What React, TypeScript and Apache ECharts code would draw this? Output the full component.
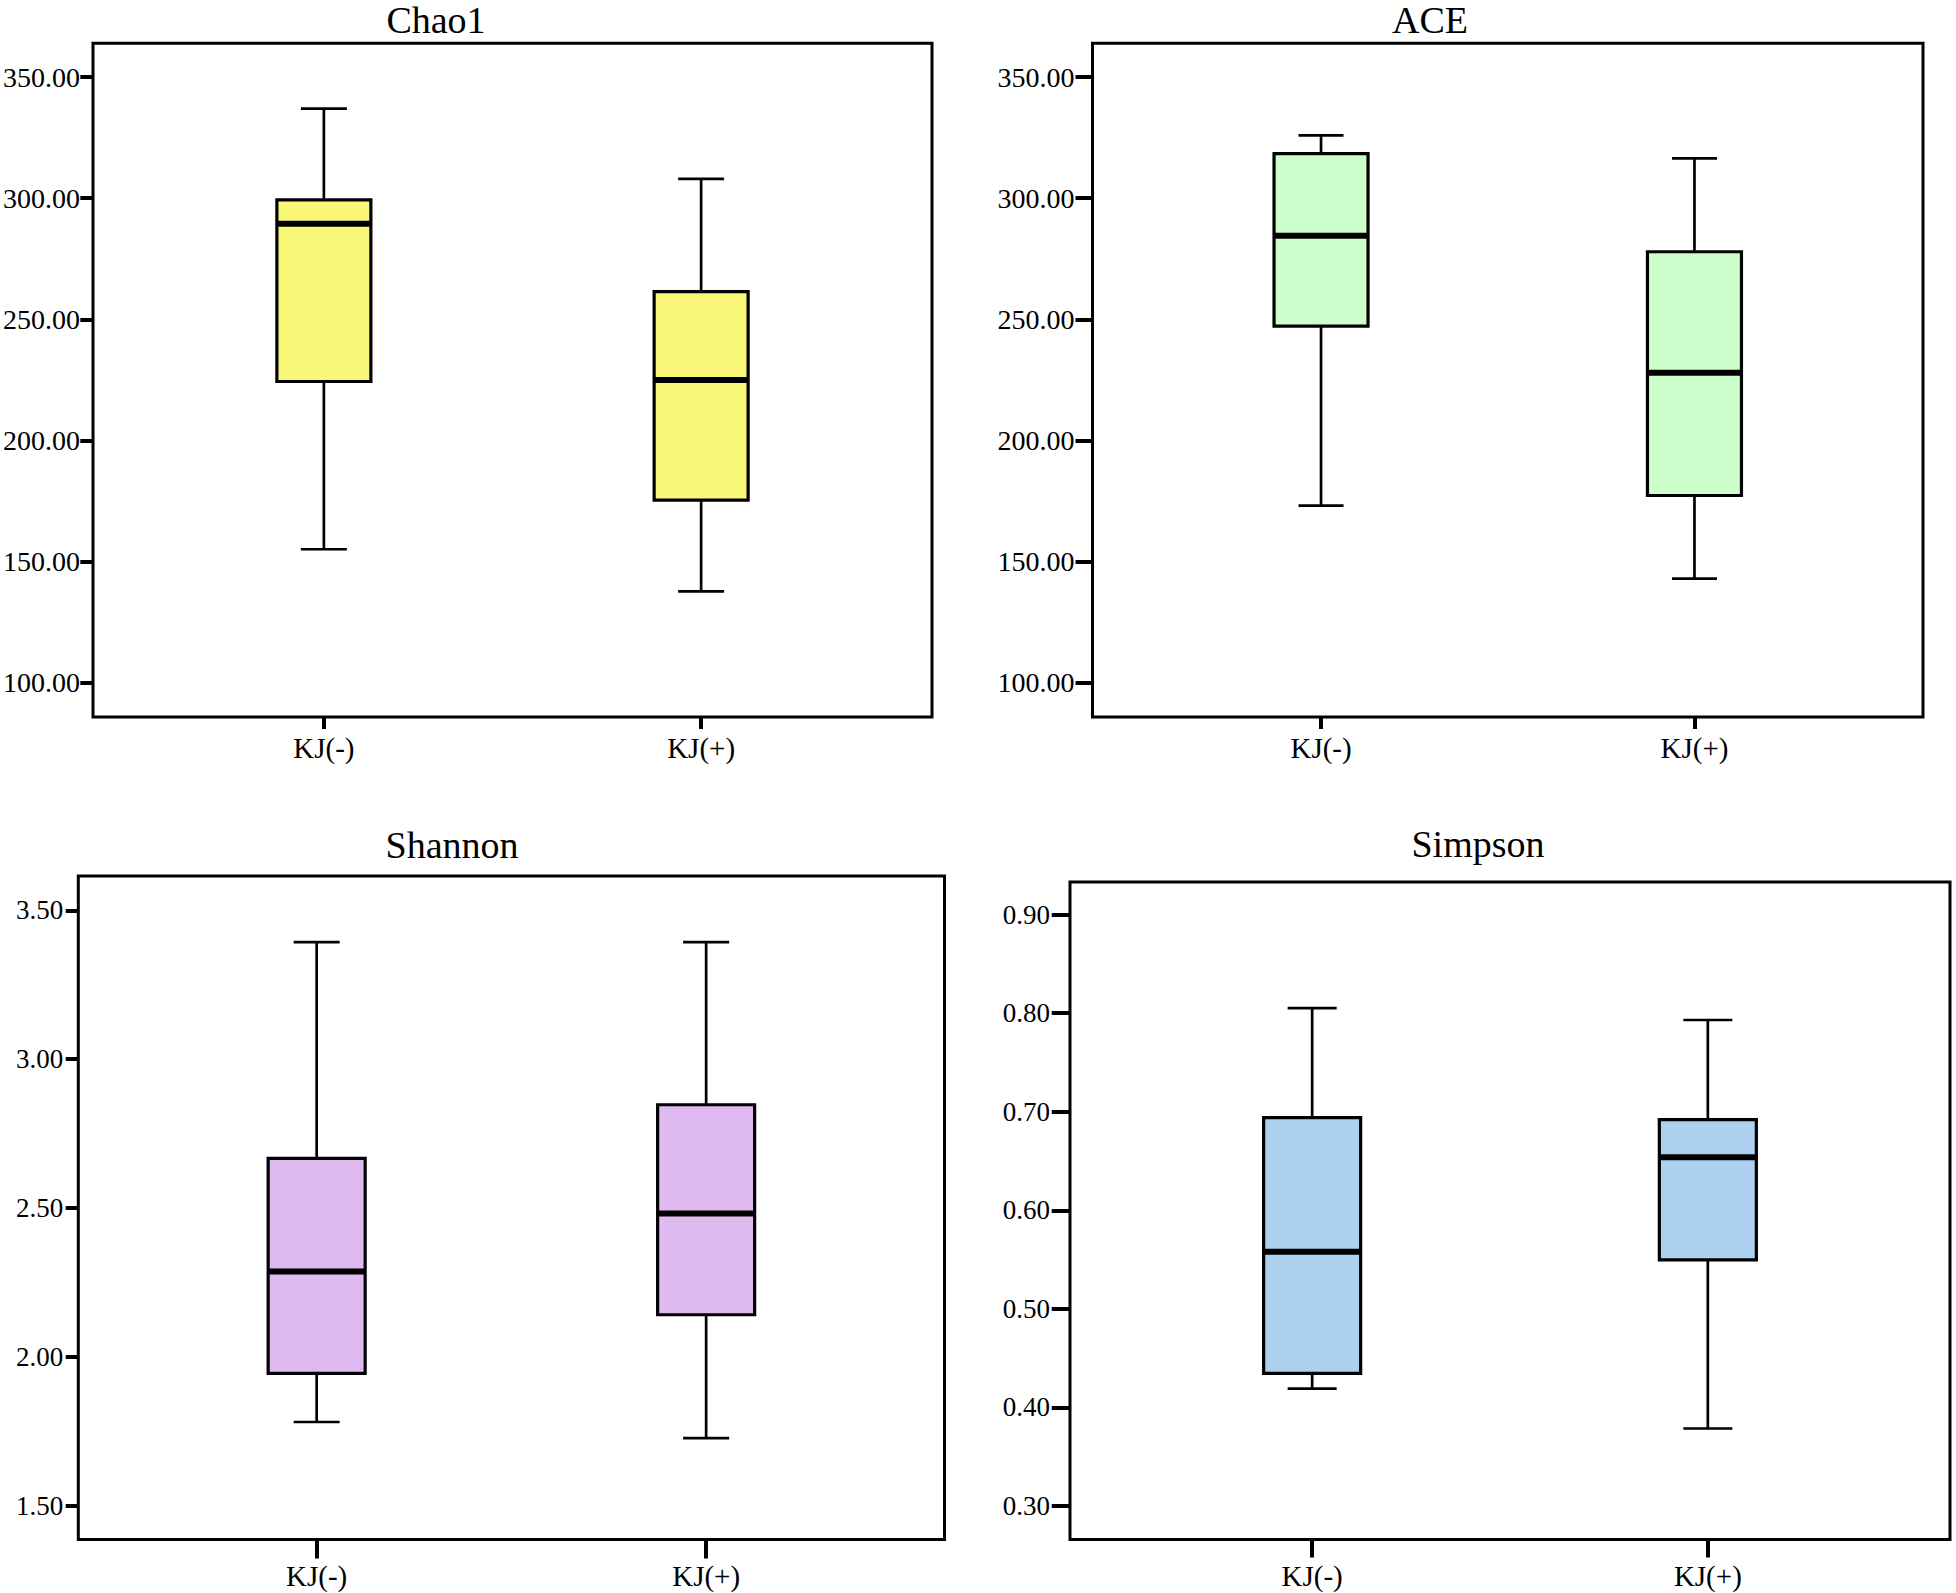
import React, { useEffect, useRef } from 'react';
import * as echarts from 'echarts';

// ---------- data ----------
const categories = ['KJ(-)', 'KJ(+)'];

// five-number summaries: [lower whisker, Q1, median, Q3, upper whisker]
const chao1Neg = [155.0, 224.3, 289.5, 299.3, 337.0];
const chao1Pos = [137.6, 175.3, 224.9, 261.4, 308.0];
const aceNeg = [173.0, 247.2, 284.5, 318.4, 326.0];
const acePos = [142.9, 177.2, 227.9, 277.9, 316.5];
const shannonNeg = [1.782, 1.945, 2.287, 2.667, 3.393];
const shannonPos = [1.728, 2.142, 2.482, 2.847, 3.393];
const simpsonNeg = [0.419, 0.4345, 0.558, 0.694, 0.805];
const simpsonPos = [0.3786, 0.5496, 0.6537, 0.692, 0.793];

const richnessTicks = [100, 150, 200, 250, 300, 350];
const shannonTicks = [1.5, 2.0, 2.5, 3.0, 3.5];
const simpsonTicks = [0.3, 0.4, 0.5, 0.6, 0.7, 0.8, 0.9];

const titles = ['Chao1', 'ACE', 'Shannon', 'Simpson'];

// ---------- layout / style ----------
const FONT = '"Liberation Serif", "Times New Roman", serif';

const panels = [
  {
    title: titles[0], stats: [chao1Neg, chao1Pos], ticks: richnessTicks,
    yMin: 85.7, yMax: 364.0, fill: '#FAF879',
    grid: { left: 92.7, top: 43.3, width: 839.3, height: 673.7 },
    titleX: 436, titleY: 19.5,
    yTickLen: 12.7, yLabelMargin: 13, xTickLen: 12, xLabelMargin: 16,
    boxW: 94, capW: 46, labelSize: 28,
  },
  {
    title: titles[1], stats: [aceNeg, acePos], ticks: richnessTicks,
    yMin: 85.7, yMax: 364.0, fill: '#CCFFCC',
    grid: { left: 1092.5, top: 43.3, width: 830.5, height: 673.7 },
    titleX: 1430, titleY: 19.5,
    yTickLen: 17, yLabelMargin: 18, xTickLen: 12, xLabelMargin: 16,
    boxW: 94, capW: 45, labelSize: 28,
  },
  {
    title: titles[2], stats: [shannonNeg, shannonPos], ticks: shannonTicks,
    yMin: 1.3875, yMax: 3.615, fill: '#DFBAF0',
    grid: { left: 78.3, top: 876, width: 866.2, height: 663.5 },
    titleX: 452, titleY: 844.5,
    yTickLen: 12.6, yLabelMargin: 15, xTickLen: 19, xLabelMargin: 22,
    boxW: 97, capW: 46, labelSize: 27,
  },
  {
    title: titles[3], stats: [simpsonNeg, simpsonPos], ticks: simpsonTicks,
    yMin: 0.266, yMax: 0.933, fill: '#ADD0EF',
    grid: { left: 1070, top: 882, width: 880, height: 657.5 },
    titleX: 1478, titleY: 844,
    yTickLen: 18.3, yLabelMargin: 20, xTickLen: 18, xLabelMargin: 22,
    boxW: 97, capW: 49, labelSize: 27,
  },
];

const X_MIN = -0.612;
const X_MAX = 1.612;

function makeRenderItem(fill: string, boxW: number, capW: number) {
  return (params: any, api: any) => {
    const x = api.value(0);
    const pLow = api.coord([x, api.value(1)]);
    const pQ1 = api.coord([x, api.value(2)]);
    const pMed = api.coord([x, api.value(3)]);
    const pQ3 = api.coord([x, api.value(4)]);
    const pHigh = api.coord([x, api.value(5)]);
    const cx = pMed[0];
    const stroke = '#000';
    return {
      type: 'group',
      children: [
        { type: 'line', shape: { x1: cx, y1: pHigh[1], x2: cx, y2: pQ3[1] }, style: { stroke, lineWidth: 2.7 } },
        { type: 'line', shape: { x1: cx, y1: pQ1[1], x2: cx, y2: pLow[1] }, style: { stroke, lineWidth: 2.7 } },
        { type: 'line', shape: { x1: cx - capW / 2, y1: pHigh[1], x2: cx + capW / 2, y2: pHigh[1] }, style: { stroke, lineWidth: 2.7 } },
        { type: 'line', shape: { x1: cx - capW / 2, y1: pLow[1], x2: cx + capW / 2, y2: pLow[1] }, style: { stroke, lineWidth: 2.7 } },
        {
          type: 'rect',
          shape: { x: cx - boxW / 2, y: pQ3[1], width: boxW, height: pQ1[1] - pQ3[1] },
          style: { fill, stroke, lineWidth: 3.2 },
        },
        { type: 'line', shape: { x1: cx - boxW / 2, y1: pMed[1], x2: cx + boxW / 2, y2: pMed[1] }, style: { stroke, lineWidth: 6 } },
      ],
    };
  };
}

export default function App() {
  const ref = useRef<HTMLDivElement>(null);

  useEffect(() => {
    if (!ref.current) return;
    const chart = echarts.init(ref.current, undefined, { renderer: 'svg' });

    const grids = panels.map((p) => ({
      ...p.grid,
      show: true,
      borderColor: '#000',
      borderWidth: 3,
      backgroundColor: 'transparent',
      containLabel: false,
    }));

    const xAxes = panels.map((p, i) => ({
      type: 'value',
      gridIndex: i,
      position: 'bottom',
      min: X_MIN,
      max: X_MAX,
      axisLine: { show: false, onZero: false },
      splitLine: { show: false },
      axisTick: {
        show: true,
        length: p.xTickLen,
        customValues: [0, 1],
        lineStyle: { color: '#000', width: 4 },
      },
      axisLabel: {
        show: true,
        customValues: [0, 1],
        margin: p.xLabelMargin,
        formatter: (v: number) => categories[Math.round(v)] ?? '',
        color: '#000',
        fontFamily: FONT,
        fontSize: 29,
      },
    }));

    const yAxes = panels.map((p, i) => ({
      type: 'value',
      gridIndex: i,
      position: 'left',
      min: p.yMin,
      max: p.yMax,
      axisLine: { show: false, onZero: false },
      splitLine: { show: false },
      axisTick: {
        show: true,
        length: p.yTickLen,
        customValues: p.ticks,
        lineStyle: { color: '#000', width: 4 },
      },
      axisLabel: {
        show: true,
        customValues: p.ticks,
        margin: p.yLabelMargin,
        formatter: (v: number) => v.toFixed(2),
        color: '#000',
        fontFamily: FONT,
        fontSize: p.labelSize,
      },
    }));

    const series = panels.map((p, i) => ({
      type: 'custom',
      xAxisIndex: i,
      yAxisIndex: i,
      clip: false,
      encode: { x: 0, y: [1, 2, 3, 4, 5] },
      data: p.stats.map((s, k) => [k, ...s]),
      renderItem: makeRenderItem(p.fill, p.boxW, p.capW),
    }));

    const graphic = panels.map((p) => ({
      type: 'text',
      x: p.titleX,
      y: p.titleY,
      style: {
        text: p.title,
        font: `38px ${FONT}`,
        fill: '#000',
        textAlign: 'center',
        textVerticalAlign: 'middle',
        align: 'center',
        verticalAlign: 'middle',
      },
    }));

    chart.setOption({
      animation: false,
      backgroundColor: '#fff',
      grid: grids,
      xAxis: xAxes,
      yAxis: yAxes,
      series,
      graphic,
    } as any);

    return () => chart.dispose();
  }, []);

  return (
    <div
      ref={ref}
      style={{ position: 'absolute', left: 0, top: 0, width: 1956, height: 1593, background: '#fff' }}
    />
  );
}
